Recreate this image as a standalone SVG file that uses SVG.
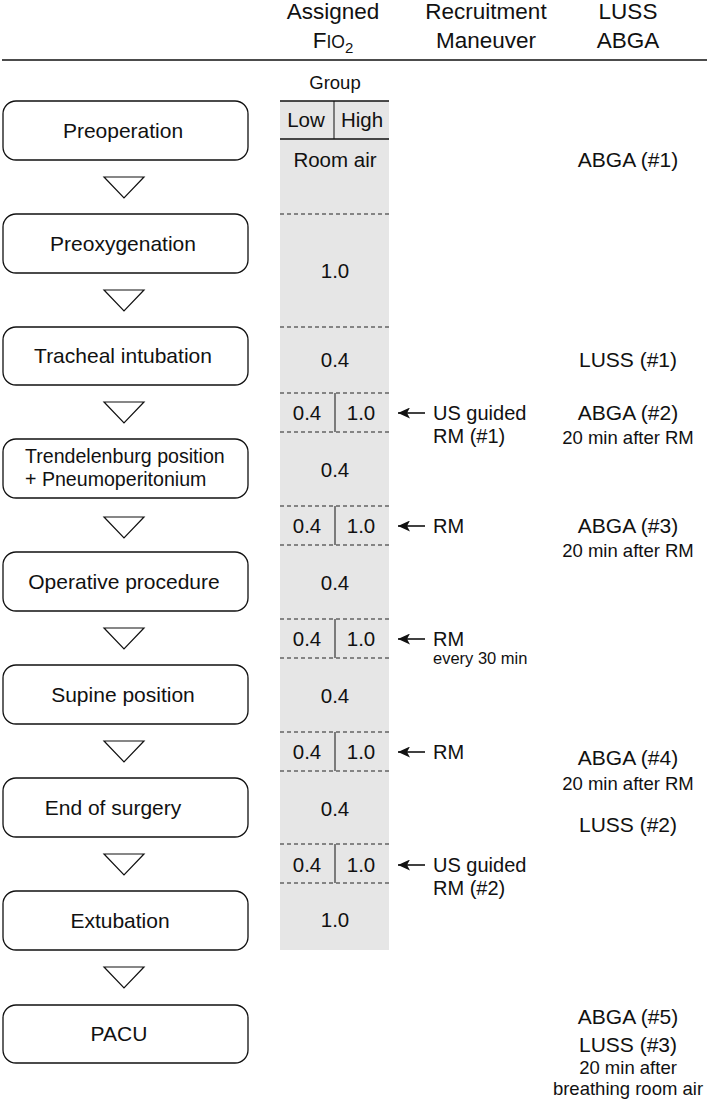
<svg xmlns="http://www.w3.org/2000/svg" width="709" height="1101" viewBox="0 0 709 1101">
<defs>
<style>
text{font-family:"Liberation Sans",Arial,sans-serif;fill:#111;}
.hd{font-size:22.5px;text-anchor:middle;}
.bx{font-size:21px;text-anchor:middle;}
.bx2{font-size:19.6px;}
.v{font-size:20.5px;text-anchor:middle;}
.r{font-size:21px;text-anchor:middle;}
.rs{font-size:18.5px;text-anchor:middle;}
.rm{font-size:20px;}
.sm{font-size:16.5px;}
.box{fill:#fff;stroke:#111;stroke-width:1.3;}
.tri{fill:#fff;stroke:#111;stroke-width:1.2;}
.dash{stroke:#222;stroke-width:1;stroke-dasharray:4,3;fill:none;}
.sol{stroke:#111;stroke-width:1.4;fill:none;}
.div{stroke:#111;stroke-width:1;}
.arr{stroke:#111;stroke-width:1.6;fill:none;}
</style>
<marker id="ah" markerWidth="13" markerHeight="11" refX="12" refY="5.5" orient="auto" markerUnits="userSpaceOnUse">
<path d="M0,0 L12,5.5 L0,11 L3,5.5 Z" fill="#111"/>
</marker>
</defs>
<rect width="709" height="1101" fill="#fff"/>

<g id="header">
<text class="hd" x="333" y="19">Assigned</text>
<text class="hd" x="333" y="48"><tspan>F</tspan><tspan font-size="17.5">IO</tspan><tspan font-size="15" dy="5">2</tspan></text>
<text class="hd" x="486" y="19">Recruitment</text>
<text class="hd" x="486" y="48">Maneuver</text>
<text class="hd" x="628" y="19">LUSS</text>
<text class="hd" x="628" y="48">ABGA</text>
<line x1="2" y1="60" x2="707" y2="60" stroke="#111" stroke-width="1.6"/>
</g>

<g id="fio2-column">
<rect x="280" y="101" width="109" height="849" fill="#e6e6e6"/>
<text x="335" y="89" font-size="18.5" text-anchor="middle">Group</text>
<line class="sol" x1="280" y1="101" x2="389" y2="101"/>
<line class="sol" x1="280" y1="139" x2="389" y2="139"/>
<line class="div" x1="334" y1="101" x2="334" y2="139"/>
<text class="v" x="306" y="127">Low</text>
<text class="v" x="362" y="127">High</text>
<text class="v" x="335" y="167">Room air</text>
<line class="dash" x1="280" y1="214" x2="389" y2="214"/>
<text class="v" x="335" y="278">1.0</text>
<line class="dash" x1="280" y1="327" x2="389" y2="327"/>
<text class="v" x="335" y="367">0.4</text>
<g id="split1">
<line class="dash" x1="280" y1="393" x2="389" y2="393"/>
<line class="div" x1="335" y1="393" x2="335" y2="432"/>
<text class="v" x="307" y="420">0.4</text>
<text class="v" x="361" y="420">1.0</text>
<line class="dash" x1="280" y1="432" x2="389" y2="432"/>
</g>
<text class="v" x="335" y="477">0.4</text>
<g id="split2">
<line class="dash" x1="280" y1="506" x2="389" y2="506"/>
<line class="div" x1="335" y1="506" x2="335" y2="545"/>
<text class="v" x="307" y="533">0.4</text>
<text class="v" x="361" y="533">1.0</text>
<line class="dash" x1="280" y1="545" x2="389" y2="545"/>
</g>
<text class="v" x="335" y="590">0.4</text>
<g id="split3">
<line class="dash" x1="280" y1="619" x2="389" y2="619"/>
<line class="div" x1="335" y1="619" x2="335" y2="658"/>
<text class="v" x="307" y="646">0.4</text>
<text class="v" x="361" y="646">1.0</text>
<line class="dash" x1="280" y1="658" x2="389" y2="658"/>
</g>
<text class="v" x="335" y="703">0.4</text>
<g id="split4">
<line class="dash" x1="280" y1="732" x2="389" y2="732"/>
<line class="div" x1="335" y1="732" x2="335" y2="771"/>
<text class="v" x="307" y="759">0.4</text>
<text class="v" x="361" y="759">1.0</text>
<line class="dash" x1="280" y1="771" x2="389" y2="771"/>
</g>
<text class="v" x="335" y="816">0.4</text>
<g id="split5">
<line class="dash" x1="280" y1="844" x2="389" y2="844"/>
<line class="div" x1="335" y1="844" x2="335" y2="883"/>
<text class="v" x="307" y="872">0.4</text>
<text class="v" x="361" y="872">1.0</text>
<line class="dash" x1="280" y1="883" x2="389" y2="883"/>
</g>
<text class="v" x="335" y="927">1.0</text>
</g>

<g id="n-preoperation"><rect class="box" x="3" y="101" width="245" height="59" rx="13"/><text class="bx" x="123" y="138">Preoperation</text></g>
<g id="n-preoxygenation"><rect class="box" x="3" y="214" width="245" height="59" rx="13"/><text class="bx" x="123" y="251">Preoxygenation</text></g>
<g id="n-intubation"><rect class="box" x="3" y="327" width="245" height="58" rx="13"/><text class="bx" x="123" y="363">Tracheal intubation</text></g>
<g id="n-trendelenburg"><rect class="box" x="3" y="439" width="245" height="59" rx="13"/><text class="bx2" x="25" y="463">Trendelenburg position</text><text class="bx2" x="25" y="486">+ Pneumoperitonium</text></g>
<g id="n-operative"><rect class="box" x="3" y="552" width="245" height="59" rx="13"/><text class="bx" x="124" y="589">Operative procedure</text></g>
<g id="n-supine"><rect class="box" x="3" y="665" width="245" height="59" rx="13"/><text class="bx" x="123" y="702">Supine position</text></g>
<g id="n-end"><rect class="box" x="3" y="778" width="245" height="59" rx="13"/><text class="bx" x="113" y="815">End of surgery</text></g>
<g id="n-extubation"><rect class="box" x="3" y="891" width="245" height="59" rx="13"/><text class="bx" x="120" y="928">Extubation</text></g>
<g id="n-pacu"><rect class="box" x="3" y="1005" width="245" height="58" rx="13"/><text class="bx" x="119" y="1041">PACU</text></g>

<g id="connectors">
<polygon class="tri" points="104,177 144,177 124,198"/>
<polygon class="tri" points="104,290 144,290 124,311"/>
<polygon class="tri" points="104,402 144,402 124,423"/>
<polygon class="tri" points="104,517 144,517 124,538"/>
<polygon class="tri" points="104,628 144,628 124,649"/>
<polygon class="tri" points="104,741 144,741 124,762"/>
<polygon class="tri" points="104,854 144,854 124,875"/>
<polygon class="tri" points="104,967 144,967 124,988"/>
<line class="arr" x1="425" y1="413" x2="398" y2="413" marker-end="url(#ah)"/>
<line class="arr" x1="425" y1="526" x2="398" y2="526" marker-end="url(#ah)"/>
<line class="arr" x1="425" y1="639" x2="398" y2="639" marker-end="url(#ah)"/>
<line class="arr" x1="425" y1="752" x2="398" y2="752" marker-end="url(#ah)"/>
<line class="arr" x1="425" y1="865" x2="398" y2="865" marker-end="url(#ah)"/>
</g>

<g id="rm-labels">
<text class="rm" x="433" y="420">US guided</text>
<text class="rm" x="433" y="443">RM (#1)</text>
<text class="rm" x="433" y="533">RM</text>
<text class="rm" x="433" y="646">RM</text>
<text class="sm" x="433" y="664">every 30 min</text>
<text class="rm" x="433" y="759">RM</text>
<text class="rm" x="433" y="872">US guided</text>
<text class="rm" x="433" y="895">RM (#2)</text>
</g>

<g id="luss-abga">
<text class="r" x="628" y="167">ABGA (#1)</text>
<text class="r" x="628" y="367">LUSS (#1)</text>
<text class="r" x="628" y="420">ABGA (#2)</text>
<text class="rs" x="628" y="444">20 min after RM</text>
<text class="r" x="628" y="533">ABGA (#3)</text>
<text class="rs" x="628" y="557">20 min after RM</text>
<text class="r" x="628" y="765">ABGA (#4)</text>
<text class="rs" x="628" y="790">20 min after RM</text>
<text class="r" x="628" y="832">LUSS (#2)</text>
<text class="r" x="628" y="1024">ABGA (#5)</text>
<text class="r" x="628" y="1052">LUSS (#3)</text>
<text class="rs" x="628" y="1074">20 min after</text>
<text class="rs" x="628" y="1095">breathing room air</text>
</g>
</svg>
